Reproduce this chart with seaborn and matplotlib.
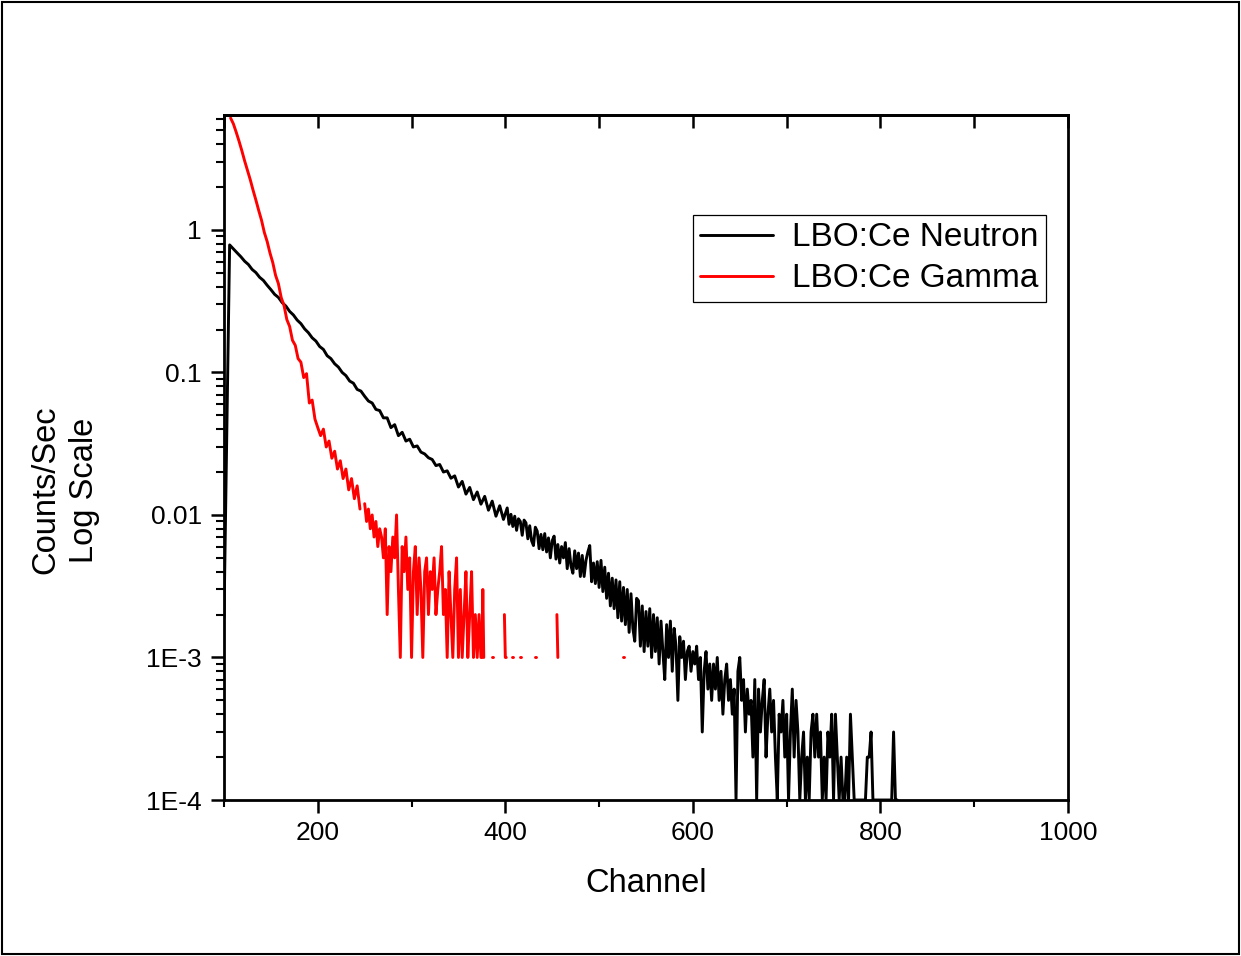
import numpy as np
import pandas as pd
import matplotlib
matplotlib.use("Agg")
import matplotlib.pyplot as plt
import seaborn as sns
from matplotlib.ticker import FixedLocator, NullFormatter, LogLocator
from matplotlib.lines import Line2D
from matplotlib.patches import Rectangle

# ---------------- data ----------------
series_labels = ["LBO:Ce Neutron", "LBO:Ce Gamma"]

neutron_ch = np.r_[100, np.arange(106, 402, 4), np.arange(402, 819, 2)]
neutron_cps = [
    0.0019,
    # 106 .. 398 (step 4)
    0.785, 0.735, 0.69, 0.648, 0.603, 0.572, 0.528, 0.502, 0.465, 0.442,
    0.409, 0.381, 0.353, 0.336, 0.309, 0.292, 0.268, 0.253, 0.233, 0.220,
    0.202, 0.190, 0.175, 0.166, 0.152, 0.145, 0.131, 0.125, 0.115, 0.109,
    0.100, 0.095, 0.087, 0.084, 0.076, 0.074, 0.068, 0.063, 0.061, 0.055,
    0.054, 0.048, 0.048, 0.041, 0.043, 0.036, 0.038, 0.033, 0.034, 0.030,
    0.0305, 0.0276, 0.0268, 0.0252, 0.0245, 0.0222, 0.0226, 0.0200, 0.0204, 0.0181,
    0.0188, 0.0157, 0.0172, 0.0140, 0.0156, 0.0128, 0.0145, 0.0119, 0.0135, 0.0108,
    0.0125, 0.0098, 0.0116, 0.0093,
    # 402 .. 818 (step 2)
    0.0112, 0.0086, 0.0101, 0.0083, 0.0098, 0.0078, 0.0094, 0.0090, 0.0072, 0.0092,
    0.0088, 0.0068, 0.0084, 0.0066, 0.0061, 0.0082, 0.0077, 0.0058, 0.0073, 0.0057,
    0.0074, 0.0055, 0.0069, 0.0050, 0.0066, 0.0071, 0.0049, 0.0062, 0.0046, 0.0060,
    0.0050, 0.0064, 0.0042, 0.0058, 0.0044, 0.0039, 0.0056, 0.0042, 0.0054, 0.0037,
    0.0052, 0.0037, 0.0048, 0.0055, 0.0061, 0.0034, 0.0046, 0.0033, 0.0047, 0.0031,
    0.0048, 0.0029, 0.0043, 0.0026, 0.0039, 0.0023, 0.0036, 0.0022, 0.0035, 0.0019,
    0.0034, 0.0018, 0.0031, 0.0017, 0.0030, 0.0015, 0.0028, 0.0016, 0.0013, 0.0026,
    0.0025, 0.0012, 0.0023, 0.0011, 0.0021, 0.0012, 0.0022, 0.0010, 0.0020, 0.0011,
    0.0019, 0.0009, 0.0018, 0.0011, 0.0007, 0.0017, 0.0010, 0.0018, 0.0008, 0.0016,
    0.0012, 0.0005, 0.0014, 0.0010, 0.0013, 0.0007, 0.0011, 0.0012, 0.0008, 0.0011,
    0.0009, 0.0012, 0.0007, 0.0010, 0.0003, 0.0008, 0.0011, 0.0006, 0.0009, 0.0005,
    0.0009, 0.0006, 0.0010, 0.0005, 0.0008, 0.0004, 0.0007, 0.0009, 0.0005, 0.0007,
    0.0004, 0.0006, 0.0001, 0.0008, 0.0010, 0.0005, 0.0007, 0.0003, 0.0006, 0.0004,
    0.0005, 0.0002, 0.0007, 0.0001, 0.0006, 0.0003, 0.0005, 0.0007, 0.0002, 0.0004,
    0.0006, 0.0003, 0.0005, 0.0002, 0.0001, 0.0004, 0.0003, 0.0005, 0.0002, 0.0004,
    0.0001, 0.0003, 0.0006, 0.0002, 0.0005, 0.0003, 0.0001, 0.0002, 0.0003, 0.0001,
    0.0002, 0.0001, 0.0003, 0.0004, 0.0002, 0.0004, 0.0002, 0.0003, 0.0001, 0.0002,
    0.0001, 0.0003, 0.0002, 0.0004, 0.0001, 0.0004, 0.0002, 0.0001, 0.0002, 0.0001,
    0.0001, 0.0002, 0.0001, 0.0004, 0.0002, 0.0001, 0.0001, 0.0001, 0.0001, 0.0001,
    0.0001, 0.0001, 0.0002, 0.0002, 0.0003, 0.0001, 0.0001, 0.0001, 0.0001, 0.0001,
    0.0001, 0.0001, 0.0001, 0.0001, 0.0001, 0.0001, 0.0003, 0.0001, 0.0001,
]

gamma_ch = np.r_[100, np.arange(107, 248, 3), np.arange(250, 375, 2)]
gamma_cps = [
    0.021,
    # 107 .. 245 (step 3)
    6.1, 5.55, 4.85, 4.2, 3.6, 3.05, 2.62, 2.25, 1.90, 1.62,
    1.37, 1.17, 0.96, 0.83, 0.69, 0.59, 0.48, 0.42, 0.335, 0.295,
    0.235, 0.21, 0.168, 0.155, 0.125, 0.118, 0.092, 0.098, 0.061, 0.064,
    0.047, 0.041, 0.036, 0.040, 0.030, 0.033, 0.025, 0.028, 0.021, 0.024,
    0.018, 0.021, 0.015, 0.018, 0.013, 0.016, 0.011,
    # 250 .. 374 (step 2)
    0.012, 0.009, 0.011, 0.008, 0.010, 0.007, 0.009, 0.006, 0.008, 0.007,
    0.005, 0.008, 0.002, 0.006, 0.004, 0.007, 0.005, 0.010, 0.003, 0.001,
    0.006, 0.004, 0.007, 0.003, 0.005, 0.001, 0.004, 0.006, 0.002, 0.005,
    0.003, 0.001, 0.004, 0.005, 0.002, 0.004, 0.003, 0.005, 0.002, 0.003,
    0.004, 0.006, 0.002, 0.003, 0.001, 0.004, 0.002, 0.001, 0.003, 0.005,
    0.001, 0.003, 0.001, 0.002, 0.004, 0.001, 0.002, 0.004, 0.001, 0.002,
    0.001, 0.002, 0.001,
]

# sparse gamma tail: channels not listed had zero counts (not drawable on log axis)
gamma_tail_ch = [375, 376, 377, 381, 382, 386, 387, 399, 400, 401,
                 407, 408, 416, 417, 432, 433, 455, 456, 526, 527]
gamma_tail_cps = [0.001, 0.003, 0.001, 0.002, 0.002, 0.001, 0.001, 0.002, 0.001, 0.001,
                  0.001, 0.001, 0.001, 0.001, 0.001, 0.001, 0.002, 0.001, 0.001, 0.001]

x_major = [200, 400, 600, 800, 1000]
x_minor = [100, 300, 500, 700, 900]
x_top = list(range(100, 1001, 100))
y_major = [1e-4, 1e-3, 1e-2, 1e-1, 1]
y_labels = ["1E-4", "1E-3", "0.01", "0.1", "1"]

# ---------------- frames ----------------
neutron_df = pd.DataFrame({"channel": neutron_ch, "cps": neutron_cps, "segment": 0})

g_ch = np.r_[gamma_ch, gamma_tail_ch]
g_cps = np.r_[gamma_cps, gamma_tail_cps]
g_seg = np.r_[0, np.cumsum(np.diff(g_ch) > 3)]
gamma_df = pd.DataFrame({"channel": g_ch, "cps": g_cps, "segment": g_seg})

# ---------------- style ----------------
sns.set_style("ticks")
plt.rcParams["font.family"] = ["Liberation Sans", "DejaVu Sans"]
plt.rcParams["axes.linewidth"] = 2.0
for key in ["text.color", "axes.labelcolor", "xtick.color", "ytick.color", "axes.edgecolor"]:
    plt.rcParams[key] = "black"

fig = plt.figure(figsize=(12.41, 9.56), dpi=100)
ax = fig.add_axes([224 / 1241, 1 - 800 / 956, 844 / 1241, 685 / 956])

LW = 2.1
sns.lineplot(data=neutron_df, x="channel", y="cps", units="segment", estimator=None,
             sort=False, color="black", linewidth=LW, ax=ax, legend=False)
sns.lineplot(data=gamma_df, x="channel", y="cps", units="segment", estimator=None,
             sort=False, color="#ff0000", linewidth=LW, ax=ax, legend=False)

ax.set_yscale("log")
ax.set_xlim(100, 1000)
ax.set_ylim(1e-4, 6.4)

ax.xaxis.set_major_locator(FixedLocator(x_major))
ax.xaxis.set_minor_locator(FixedLocator(x_minor))
ax.set_xticklabels([str(v) for v in x_major])
ax.yaxis.set_major_locator(FixedLocator(y_major))
ax.set_yticklabels(y_labels)
ax.yaxis.set_minor_locator(LogLocator(base=10, subs=np.arange(2, 10)))
ax.yaxis.set_minor_formatter(NullFormatter())

ax.tick_params(axis="both", which="major", direction="out", length=9.4, width=1.8,
               labelsize=19, colors="black", top=False, right=False)
ax.tick_params(axis="y", which="minor", direction="out", length=5.5, width=1.5, right=False)
ax.tick_params(axis="x", which="minor", direction="out", length=5, width=1.5, top=False)
ax.tick_params(axis="x", which="major", pad=6)
ax.tick_params(axis="y", which="major", pad=6.5)

for s in ax.spines.values():
    s.set_visible(True)
    s.set_linewidth(2.0)
    s.set_color("black")

top = ax.secondary_xaxis("top")
top.xaxis.set_major_locator(FixedLocator(x_top))
top.xaxis.set_major_formatter(NullFormatter())
top.tick_params(direction="in", length=9.4, width=1.8)
top.spines["top"].set_linewidth(2.0)

ax.set_xlabel("Channel", fontsize=23.5, va="center")
ax.xaxis.set_label_coords(0.5, (800 - 883) / 685)
ax.set_ylabel("Counts/Sec\nLog Scale", fontsize=23.5, va="center", linespacing=1.3)
ax.yaxis.set_label_coords((65 - 224) / 844, (800 - 490) / 685)

handles = [Line2D([], [], color="black", lw=LW), Line2D([], [], color="#ff0000", lw=LW)]
leg = ax.legend(handles, series_labels, loc="upper right",
                bbox_to_anchor=((1046 - 224) / 844, (800 - 215) / 685),
                fontsize=24, frameon=True, fancybox=False, edgecolor="black",
                framealpha=1, handlelength=2.2, handletextpad=0.57, borderpad=0.22,
                labelspacing=0.3, borderaxespad=0)
leg.get_frame().set_linewidth(0.9)

fig.patches.append(Rectangle((0.002, 0.002), 0.996, 0.996, transform=fig.transFigure,
                             fill=False, lw=1.5, ec="black"))

fig.savefig("out.png", dpi=100, facecolor="white")
